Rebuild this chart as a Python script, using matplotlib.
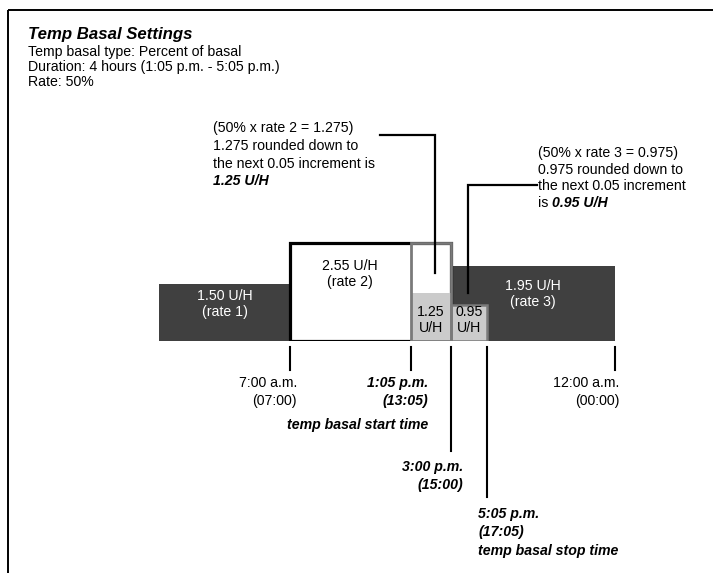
import numpy as np
import matplotlib
matplotlib.use("Agg")
import matplotlib.pyplot as plt
from matplotlib.transforms import blended_transform_factory

# ---------------- data ----------------
rate_names = ["rate 1", "rate 2", "rate 3"]
rate_start_h = [0.0, 7.0, 15.0]
rate_end_h = [7.0, 15.0, 24.0]
rate_values = [1.50, 2.55, 1.95]

temp_start_h = 13 + 5 / 60
temp_stop_h = 17 + 5 / 60
temp_seg_start = [temp_start_h, 15.0]
temp_seg_end = [15.0, temp_stop_h]
temp_values = [1.25, 0.95]

tick_hours = [7.0, temp_start_h, 15.0, temp_stop_h, 24.0]
tick_labels = ["7:00 a.m.\n(07:00)", "1:05 p.m.\n(13:05)", "3:00 p.m.\n(15:00)",
               "5:05 p.m.\n(17:05)", "12:00 a.m.\n(00:00)"]

# ---------------- layout ----------------
W, H = 713, 573
FONT = "Liberation Sans"
FS = 10.2
DARK = "#404040"
LIGHT = "#cbcbcb"
MID = "#7a7a7a"

# schematic (piecewise) time axis: hour knots -> pixel knots
knot_h = [0.0, 7.0, temp_start_h, 15.0, temp_stop_h, 24.0]
knot_px = [159.0, 290.0, 410.5, 450.5, 487.0, 615.0]


def fwd(h):
    return np.interp(h, knot_h, knot_px)


def inv(p):
    return np.interp(p, knot_px, knot_h)


px_per_unit = 38.3
base_px = 341.0
y_top_units = 3.0

fig = plt.figure(figsize=(W / 100, H / 100), dpi=100)
ax = fig.add_axes([159 / W, 1 - base_px / H, (615 - 159) / W, y_top_units * px_per_unit / H])
ax.set_xscale("function", functions=(fwd, inv))
ax.set_xlim(0, 24)
ax.set_ylim(0, y_top_units)
ax.axis("off")

# overlay in pixel coordinates for annotations
ov = fig.add_axes([0, 0, 1, 1], zorder=5)
ov.set_xlim(0, W)
ov.set_ylim(H, 0)
ov.axis("off")
ov.patch.set_alpha(0)

# rate 1 and rate 3 dark bars
for i in (0, 2):
    ax.bar(rate_start_h[i], rate_values[i], width=rate_end_h[i] - rate_start_h[i],
           align="edge", color=DARK, edgecolor="none", zorder=1)
# rate 2 white box with thick black outline
ax.bar(rate_start_h[1], rate_values[1], width=rate_end_h[1] - rate_start_h[1],
       align="edge", color="white", edgecolor="black", linewidth=2.3, zorder=2)
# temp segment 1 (inside rate 2): grey outlined column, light fill to temp value
ax.bar(temp_seg_start[0], temp_values[0], width=temp_seg_end[0] - temp_seg_start[0],
       align="edge", color=LIGHT, edgecolor="none", zorder=3)
ax.bar(temp_seg_start[0], rate_values[1], width=temp_seg_end[0] - temp_seg_start[0],
       align="edge", color="none", edgecolor=MID, linewidth=2.0, zorder=4)
# temp segment 2 (inside rate 3)
ax.bar(temp_seg_start[1], temp_values[1], width=temp_seg_end[1] - temp_seg_start[1],
       align="edge", color=LIGHT, edgecolor=MID, linewidth=1.8, zorder=3)

# labels inside bars
def mid(a, b):
    return inv((fwd(a) + fwd(b)) / 2)

ax.text(mid(rate_start_h[0], rate_end_h[0]), 0.97,
        f"{rate_values[0]:.2f} U/H\n({rate_names[0]})", color="white",
        ha="center", va="center", fontsize=FS, family=FONT, zorder=6, linespacing=1.15)
ax.text(mid(rate_start_h[1], temp_start_h), 1.75,
        f"{rate_values[1]:.2f} U/H\n({rate_names[1]})", color="black",
        ha="center", va="center", fontsize=FS, family=FONT, zorder=6, linespacing=1.15)
ax.text(mid(rate_start_h[2], rate_end_h[2]), 1.22,
        f"{rate_values[2]:.2f} U/H\n({rate_names[2]})", color="white",
        ha="center", va="center", fontsize=FS, family=FONT, zorder=6, linespacing=1.15)
for s, e, v in zip(temp_seg_start, temp_seg_end, temp_values):
    ax.text(mid(s, e), 0.55, f"{v:.2f}\nU/H", color="black",
            ha="center", va="center", fontsize=FS, family=FONT, zorder=6, linespacing=1.15)

# time ticks
bt = blended_transform_factory(ax.transData, ov.transData)
tick_ends = [370, 370, 451, 497, 370]
for h, ye in zip(tick_hours, tick_ends):
    ax.plot([h, h], [347, ye], color="black", lw=1.5, transform=bt, clip_on=False, zorder=6)

# time labels
bold_it = dict(fontsize=FS, family=FONT, fontweight="bold", fontstyle="italic")
plain = dict(fontsize=FS, family=FONT)
ov.text(297, 392, tick_labels[0], ha="right", va="center", linespacing=1.45, **plain)
ov.text(428, 392, tick_labels[1], ha="right", va="center", linespacing=1.45, **bold_it)
ov.text(428, 425, "temp basal start time", ha="right", va="center", **bold_it)
ov.text(463, 476, tick_labels[2], ha="right", va="center", linespacing=1.45, **bold_it)
ov.text(478, 523, tick_labels[3], ha="left", va="center", linespacing=1.45, **bold_it)
ov.text(478, 551, "temp basal stop time", ha="left", va="center", **bold_it)
ov.text(619, 392, tick_labels[4], ha="right", va="center", linespacing=1.45, **plain)

# header
ov.text(28, 34, "Temp Basal Settings", ha="left", va="center", fontsize=12.1,
        family=FONT, fontweight="bold", fontstyle="italic")
ov.text(28, 52, "Temp basal type: Percent of basal", ha="left", va="center", **plain)
ov.text(28, 67, "Duration: 4 hours (1:05 p.m. - 5:05 p.m.)", ha="left", va="center", **plain)
ov.text(28, 82, "Rate: 50%", ha="left", va="center", **plain)

# annotation 1
ann1 = ["(50% x rate 2 = 1.275)", "1.275 rounded down to", "the next 0.05 increment is"]
for k, line in enumerate(ann1):
    ov.text(213, 128 + 17.8 * k, line, ha="left", va="center", **plain)
ov.text(213, 128 + 17.8 * 3, "1.25 U/H", ha="left", va="center", **bold_it)
ov.plot([380, 435, 435], [135, 135, 273], color="black", lw=1.6, solid_joinstyle="miter")

# annotation 2
ann2 = ["(50% x rate 3 = 0.975)", "0.975 rounded down to", "the next 0.05 increment"]
for k, line in enumerate(ann2):
    ov.text(538, 153 + 16.7 * k, line, ha="left", va="center", **plain)
t_is = ov.text(538, 153 + 16.7 * 3, "is ", ha="left", va="center", **plain)
ov.annotate("0.95 U/H", xy=(1, 0), xycoords=t_is, ha="left", va="bottom", **bold_it)
ov.plot([537, 468, 468], [185, 185, 293], color="black", lw=1.6, solid_joinstyle="miter")

# frame lines (top and left)
ov.plot([7.5, W], [9.8, 9.8], color="black", lw=1.4, solid_capstyle="butt")
ov.plot([7.5, 7.5], [9.8, H], color="black", lw=1.4, solid_capstyle="butt")

fig.savefig("out.png", dpi=100)
